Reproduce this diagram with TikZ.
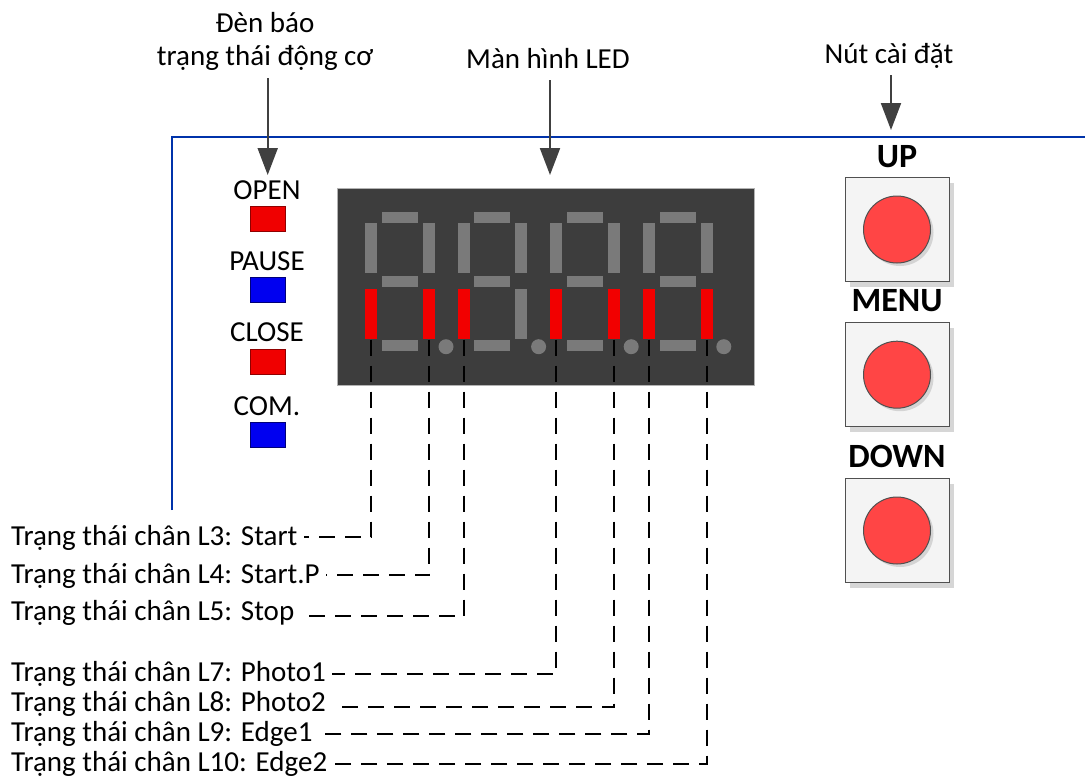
\documentclass[tikz,border=0pt]{standalone}
\usepackage{fontspec}
\setmainfont{Carlito}
\usetikzlibrary{arrows.meta,shadows}
\definecolor{ledbg}{HTML}{3D3D3D}
\definecolor{seggray}{HTML}{7A7A7A}
\definecolor{segred}{HTML}{F20000}
\definecolor{framecol}{RGB}{0,51,170}
\definecolor{arrowcol}{HTML}{404040}
\definecolor{btnfill}{HTML}{F4F4F4}
\definecolor{btnborder}{HTML}{505050}
\definecolor{knobfill}{HTML}{FF4545}
\definecolor{sqred}{HTML}{F00000}
\definecolor{sqblue}{HTML}{0000F0}
\begin{document}
\begin{tikzpicture}[x=1pt,y=-1pt,
  lbl/.style={font=\fontsize{29}{33}\selectfont, inner sep=0pt, align=center},
  pinlbl/.style={font=\fontsize{29}{33}\selectfont, inner ysep=0pt, inner xsep=6pt, anchor=base west},
  head/.style={font=\fontsize{34}{40}\selectfont\bfseries, inner sep=0pt, anchor=base},
  indsq/.style={minimum width=35pt, minimum height=25pt, inner sep=0pt, line width=1pt},
  redsq/.style={indsq, fill=sqred, draw=sqred!60!black},
  bluesq/.style={indsq, fill=sqblue, draw=sqblue!50!black},
  segv/.style={minimum width=12pt, minimum height=50pt, inner sep=0pt, fill=seggray},
  segh/.style={minimum width=36pt, minimum height=11pt, inner sep=0pt, fill=seggray},
  segon/.style={segv, fill=segred},
  segdot/.style={circle, minimum size=15pt, inner sep=0pt, fill=seggray},
  btn/.style={draw=btnborder, fill=btnfill, minimum size=104pt, inner sep=0pt, line width=1pt,
    drop shadow={shadow xshift=5pt, shadow yshift=-5pt, fill=black!20, opacity=0.8}},
  knob/.style={circle, draw=btnborder, fill=knobfill, minimum size=67pt, inner sep=0pt, line width=1pt,
    drop shadow={shadow xshift=3pt, shadow yshift=-3pt, fill=black!25, opacity=0.6}},
  pin/.style={draw=black, line width=2pt, dash pattern=on 16pt off 10pt},
  pointer/.style={draw=arrowcol, line width=2pt, -{Triangle[width=20pt,length=27pt]}}
]
\useasboundingbox (0,0) rectangle (1085,780);

% frame
\draw[framecol, line width=2pt] (172,510) -- (172,137) -- (1086,137);

% top labels and arrows
\node[lbl, anchor=base] (t1) at (265,65) {Đèn báo\\trạng thái động cơ};
\node[lbl, anchor=base] (t2) at (548,68) {Màn hình LED};
\node[lbl, anchor=base] (t3) at (889,63) {Nút cài đặt};
\coordinate (a1) at (267.7,175);
\coordinate (a2) at (550,175);
\coordinate (a3) at (891,130);
\draw[pointer] (t1.south -| a1) ++(0,8) -- (a1);
\draw[pointer] (t2.south -| a2) ++(0,12) -- (a2);
\draw[pointer] (t3.south -| a3) ++(0,7) -- (a3);

% indicators
\node[lbl, anchor=base] (lopen) at (267,199) {OPEN};
\node[redsq] (sopen) at (267.5,219) {};
\node[lbl, anchor=base] (lpause) at (267,270) {PAUSE};
\node[bluesq] (spause) at (267.5,290) {};
\node[lbl, anchor=base] (lclose) at (267,341.7) {CLOSE};
\node[redsq] (sclose) at (267.5,362) {};
\node[lbl, anchor=base] (lcom) at (267,415) {COM.};
\node[bluesq] (scom) at (267.5,434.5) {};

% LED display
\node[draw=black!30, line width=0.8pt, fill=ledbg, minimum width=417pt, minimum height=197pt, inner sep=0pt] (disp) at (545.5,286.5) {};
\foreach \d in {0,1,2,3}{
  \pgfmathsetmacro\ox{365+92.6*\d}
  \node[segh] at (\ox+34.7,217.2) {};
  \node[segh] at (\ox+34.7,281.6) {};
  \node[segh] at (\ox+34.7,345.8) {};
  \node[segv] at (\ox+6,247.8) {};
  \node[segv] at (\ox+63.8,247.8) {};
  \node[segdot] at (\ox+81,346.7) {};
}
\node[segv] at (365+92.6+63.8,314.3) {};
\node[segon] (s1) at (365+6,314.3) {};
\node[segon] (s2) at (365+63.8,314.3) {};
\node[segon] (s3) at (365+92.6+6,314.3) {};
\node[segon] (s4) at (365+185.2+6,314.3) {};
\node[segon] (s5) at (365+185.2+63.8,314.3) {};
\node[segon] (s6) at (365+277.8+6,314.3) {};
\node[segon] (s7) at (365+277.8+63.8,314.3) {};

% pin labels
\node[pinlbl] (l3) at (5,545) {Trạng thái chân L3: Start};
\node[pinlbl] (l4) at (5,583) {Trạng thái chân L4: Start.P};
\node[pinlbl] (l5) at (5,620) {Trạng thái chân L5: Stop};
\node[pinlbl] (l7) at (5,681.7) {Trạng thái chân L7: Photo1};
\node[pinlbl] (l8) at (5,711.7) {Trạng thái chân L8: Photo2};
\node[pinlbl] (l9) at (5,741.7) {Trạng thái chân L9: Edge1};
\node[pinlbl] (l10) at (5,771.7) {Trạng thái chân L10: Edge2};

\draw[pin] (s1.south) |- (l3.east);
\draw[pin] (s2.south) |- (l4.east);
\draw[pin] (s3.south) |- ([yshift=-4pt]l5.east);
\draw[pin] (s4.south) |- (l7.east);
\draw[pin] (s5.south) |- ([yshift=-3pt]l8.east);
\draw[pin] (s6.south) |- (l9.east);
\draw[pin] (s7.south) |- (l10.east);

% buttons
\node[head] (hup) at (897,167) {UP};
\node[btn] (bup) at (897,229.5) {};
\node[knob] (kup) at (bup.center) {};
\node[head] (hmenu) at (897,311.7) {MENU};
\node[btn] (bmenu) at (897,374.7) {};
\node[knob] (kmenu) at (bmenu.center) {};
\node[head] (hdown) at (897,467.3) {DOWN};
\node[btn] (bdown) at (897,530.5) {};
\node[knob] (kdown) at (bdown.center) {};
\end{tikzpicture}
\end{document}
